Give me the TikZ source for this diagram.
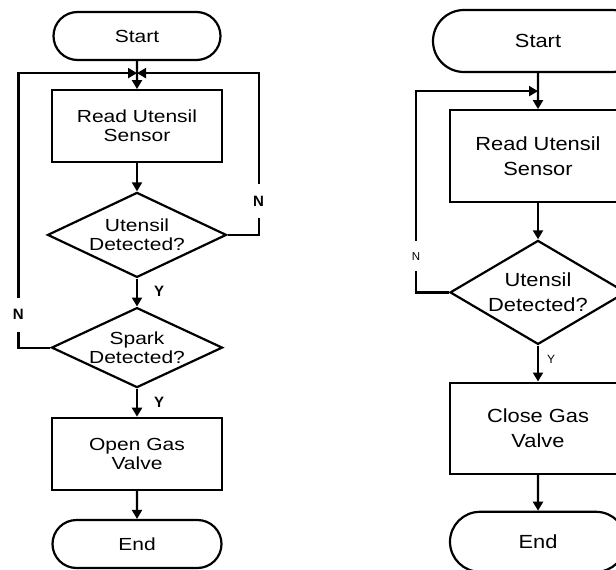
\documentclass[tikz,border=0pt]{standalone}
\usepackage{fontspec}
\setmainfont{Liberation Sans}
\newfontfamily\lchart{Liberation Sans}[FakeStretch=1.2]
\newfontfamily\rchart{Liberation Sans}[FakeStretch=1.15]
\usetikzlibrary{arrows.meta,positioning,shapes.geometric,shapes.misc}

\begin{document}
\begin{tikzpicture}[x=1pt, y=1pt, line width=2.2pt, term/.style={draw,rounded rectangle,align=center,inner sep=0pt}, proc/.style={draw,rectangle,align=center,inner sep=0pt}, dec/.style={draw,diamond,align=center,inner sep=0pt}, arr/.style={-{Triangle[width=10pt,length=9pt]}}, lft/.style={font=\lchart\fontsize{17.5}{19}\selectfont}, rgt/.style={font=\rchart\fontsize{19}{25}\selectfont}, ylbl/.style={inner sep=0pt,font=\fontsize{15}{15}\selectfont\bfseries}, nlbl/.style={fill=white,inner xsep=2pt,inner ysep=12pt,font=\fontsize{15}{15}\selectfont\bfseries}, ysml/.style={inner sep=0pt,font=\fontsize{12}{12}\selectfont}, nsml/.style={fill=white,inner xsep=2pt,inner ysep=11pt,font=\fontsize{11.5}{12}\selectfont}]
\useasboundingbox (0,-570) rectangle (616,0);
\fill[white] (0,-570) rectangle (616,0);
\clip (0,-570) rectangle (616,0);
\begin{scope}[node distance=28pt]
\node[term,lft,minimum width=167pt,minimum height=48pt] (startL) at (137,-36) {Start};
\node[proc,lft,minimum width=170pt,minimum height=72pt,below=of startL] (readL) {Read Utensil\\Sensor};
\node[dec,lft,aspect=2.1,minimum width=179pt,minimum height=85pt,below=of readL] (utensL) {Utensil\\Detected?};
\node[dec,lft,aspect=2.14,minimum width=171pt,minimum height=80pt,below=of utensL] (sparkL) {Spark\\Detected?};
\node[proc,lft,minimum width=170pt,minimum height=72pt,below=of sparkL] (openL) {Open Gas\\Valve};
\node[term,lft,minimum width=169pt,minimum height=48pt,below=of openL] (endL) {End};
\end{scope}
\coordinate[above=16pt of readL.north] (mergeL);
\draw[arr] (startL)--(readL);\draw[arr] (readL)--(utensL);\draw[arr] (openL)--(endL);
\draw[arr] (utensL)--node[ylbl,pos=0.45,anchor=west,xshift=16pt]{Y}(sparkL);
\draw[arr] (sparkL)--node[ylbl,pos=0.47,anchor=west,xshift=16pt]{Y}(openL);
\draw[arr] (utensL.east)--++(31,0)|-node[nlbl,pos=0.105]{N}(mergeL);
\draw[arr] (sparkL.west)--++(-32,0)|-node[nlbl,pos=0.06]{N}(mergeL);
\begin{scope}[node distance=36pt]
\node[term,rgt,minimum width=210pt,minimum height=62pt] (startR) at (538,-41) {Start};
\node[proc,rgt,minimum width=176pt,minimum height=92pt,below=of startR] (readR) {Read Utensil\\Sensor};
\node[dec,rgt,aspect=1.7,minimum width=176pt,minimum height=104pt,below=of readR] (utensR) {Utensil\\Detected?};
\node[proc,rgt,minimum width=176pt,minimum height=91pt,below=of utensR] (closeR) {Close Gas\\Valve};
\node[term,rgt,minimum width=176pt,minimum height=60pt,below=of closeR] (endR) {End};
\end{scope}
\coordinate[above=18pt of readR.north] (mergeR);
\draw[arr] (startR)--(readR);\draw[arr] (readR)--(utensR);\draw[arr] (closeR)--(endR);
\draw[arr] (utensR)--node[ysml,pos=0.375,anchor=west,xshift=8pt]{Y}(closeR);
\draw[arr] (utensR.west)--++(-33,0)|-node[nsml,pos=0.09]{N}(mergeR);
\end{tikzpicture}
\end{document}
